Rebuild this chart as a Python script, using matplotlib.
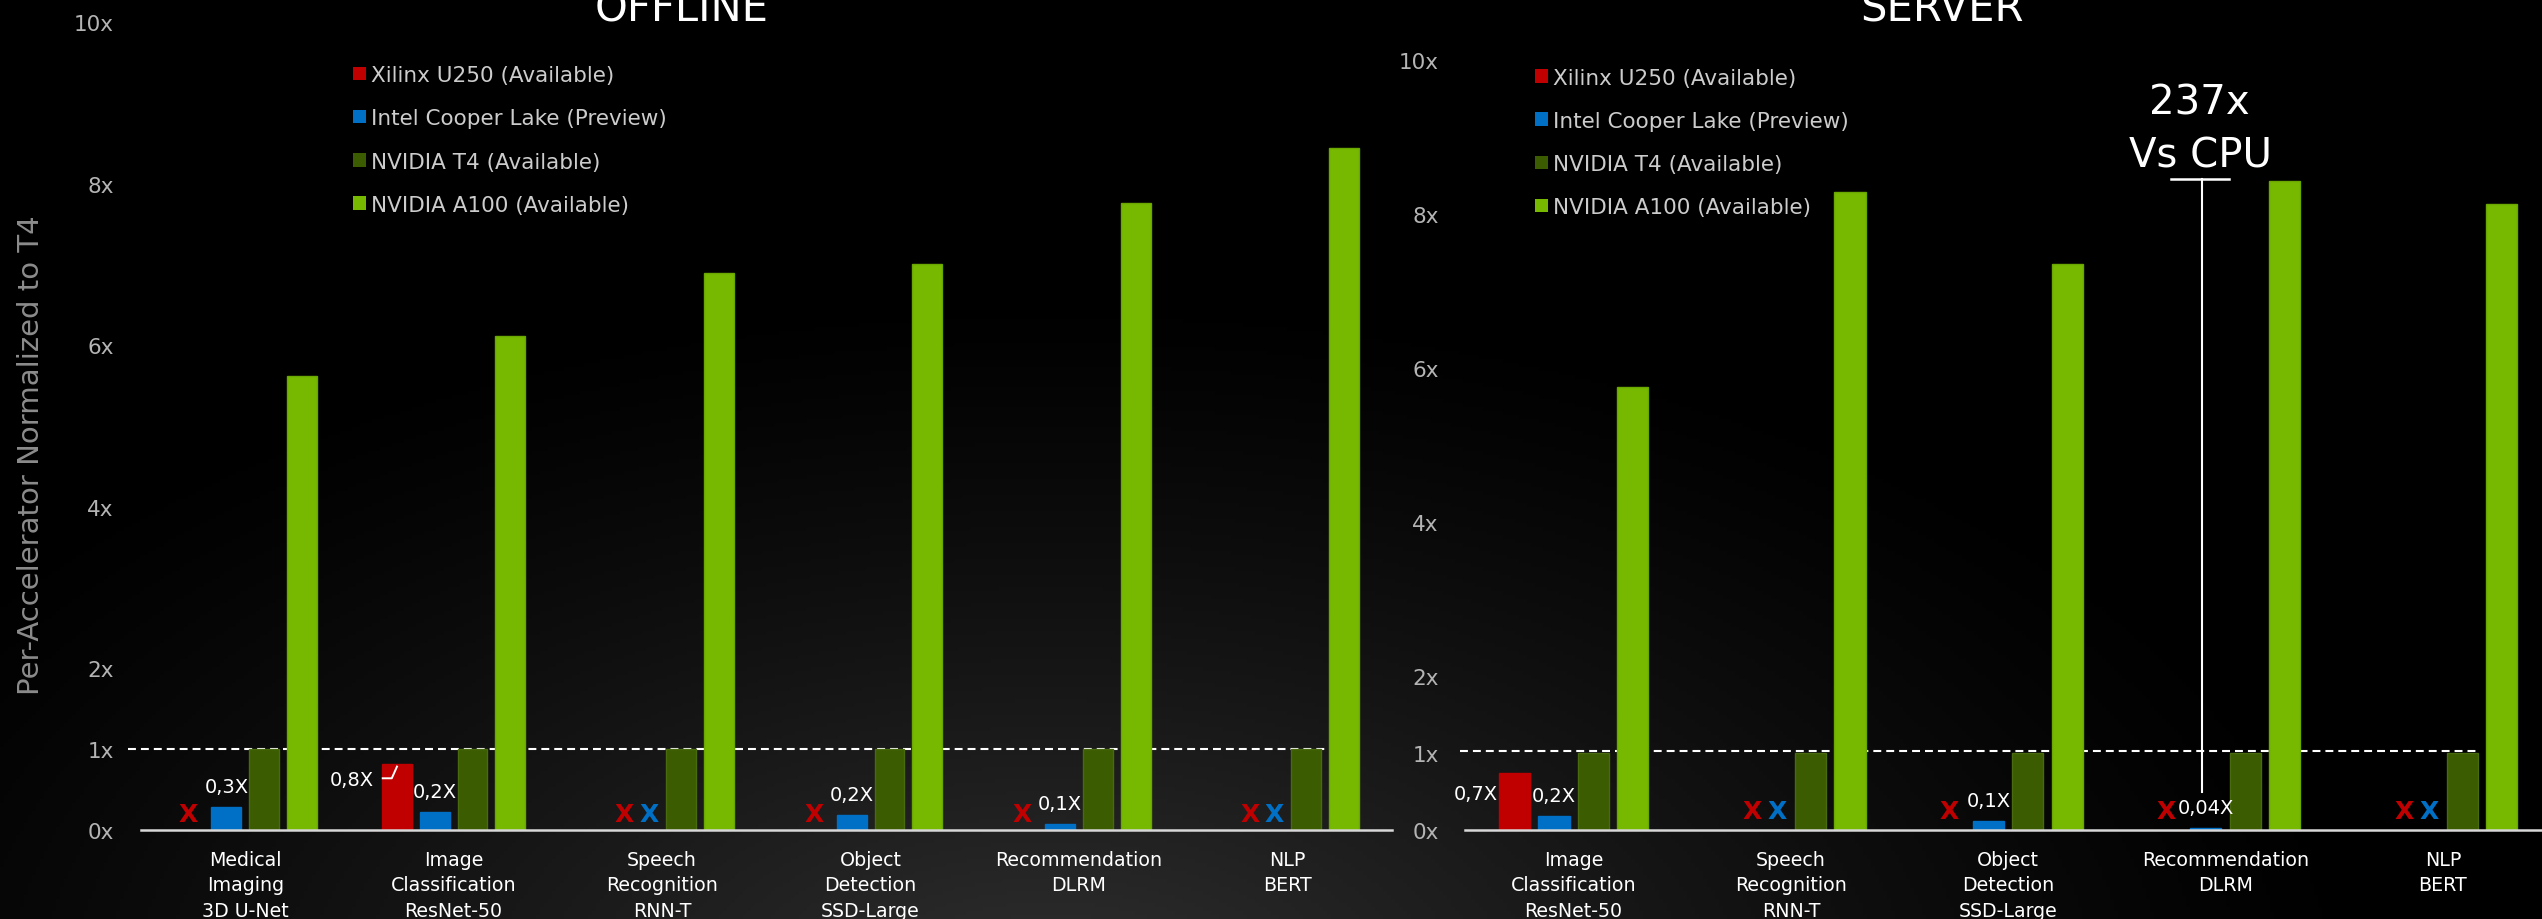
import numpy as np
import matplotlib
matplotlib.use("Agg")
import matplotlib.pyplot as plt
from matplotlib.patches import Patch

nan = np.nan

# ---------------- data ----------------
series_names = ["Xilinx U250 (Available)", "Intel Cooper Lake (Preview)",
                "NVIDIA T4 (Available)", "NVIDIA A100 (Available)"]

off_categories = ["Medical\nImaging\n3D U-Net", "Image\nClassification\nResNet-50",
                  "Speech\nRecognition\nRNN-T", "Object\nDetection\nSSD-Large",
                  "Recommendation\nDLRM", "NLP\nBERT"]
off_xilinx = [nan, 0.82, nan, nan, nan, nan]
off_intel = [0.29, 0.22, nan, 0.18, 0.08, nan]
off_t4 = [1.0, 1.0, 1.0, 1.0, 1.0, 1.0]
off_a100 = [5.62, 6.11, 6.89, 7.00, 7.76, 8.44]
off_xilinx_labels = ["", "0,8X", "", "", "", ""]
off_intel_labels = ["0,3X", "0,2X", "", "0,2X", "0,1X", ""]

srv_categories = ["Image\nClassification\nResNet-50", "Speech\nRecognition\nRNN-T",
                  "Object\nDetection\nSSD-Large", "Recommendation\nDLRM", "NLP\nBERT"]
srv_xilinx = [0.74, nan, nan, nan, nan]
srv_intel = [0.18, nan, 0.12, 0.03, nan]
srv_t4 = [1.0, 1.0, 1.0, 1.0, 1.0]
srv_a100 = [5.75, 8.29, 7.35, 8.43, 8.13]
srv_xilinx_labels = ["0,7X", "", "", "", ""]
srv_intel_labels = ["0,2X", "", "0,1X", "0,04X", ""]

y_ticks = [0, 1, 2, 4, 6, 8, 10]
y_tick_labels = ["0x", "1x", "2x", "4x", "6x", "8x", "10x"]
callout_lines = ["237x", "Vs CPU"]
callout_group = 3

# ---------------- style ----------------
colors = ["#c00000", "#0070c6", "#3b5c00", "#76b900"]
edgecolors = ["#c00000", "#0070c6", "#4a6a10", "#6aa800"]
plt.rcParams["font.family"] = "DejaVu Sans"

W, H = 2542, 920
def fx(px):
    return px / W
def fy(py):
    return 1 - py / H

fig = plt.figure(figsize=(W / 100, H / 100), dpi=100, facecolor="black")

# background gradient
bg = fig.add_axes([0, 0, 1, 1], zorder=-10)
yy, xx = np.mgrid[0:H:4, 0:W:4]
d = np.sqrt(((xx - 1050) / 1350.0) ** 2 + ((yy - 1000) / 720.0) ** 2)
g = 0.19 * np.clip(1 - d, 0, 1) ** 1.3
img = np.dstack([g, g, g])
bg.imshow(img, extent=[0, 1, 0, 1], aspect="auto", origin="upper")
bg.set_xlim(0, 1); bg.set_ylim(0, 1)
bg.axis("off")

offsets = [-0.2715, -0.0905, 0.0905, 0.2715]
bar_w = 0.143

panels = [
    dict(rect=[fx(141), fy(831), 1250.7 / W, 808 / H], xlim=(-0.5, 5.5),
         cats=off_categories, vals=[off_xilinx, off_intel, off_t4, off_a100],
         xl=off_xilinx_labels, il=off_intel_labels, dash=(-0.564, 5.192, 1.0),
         ypad=19.5, legend=(353, 66), title=("OFFLINE", 682), xmark_y=0.2,
         red_lab_off=(-6.3, -15.3)),
    dict(rect=[fx(1465), fy(831), 1077 / W, 770 / H], xlim=(-0.5, 4.456),
         cats=srv_categories, vals=[srv_xilinx, srv_intel, srv_t4, srv_a100],
         xl=srv_xilinx_labels, il=srv_intel_labels, dash=(-0.521, 4.159, 1.03),
         ypad=19.0, legend=(1535, 68.5), title=("SERVER", 1942), xmark_y=0.25,
         red_lab_off=(-1.2, -18.5)),
]

axes = []
for pi, P in enumerate(panels):
    ax = fig.add_axes(P["rect"])
    ax.set_facecolor("none")
    n = len(P["cats"])
    x = np.arange(n)
    for si in range(4):
        ax.bar(x + offsets[si], P["vals"][si], bar_w, color=colors[si],
               edgecolor=edgecolors[si], linewidth=1.0, zorder=3)
    ax.set_xlim(*P["xlim"])
    ax.set_ylim(0, 10)
    for s in ["left", "right", "top"]:
        ax.spines[s].set_visible(False)
    ax.spines["bottom"].set_color("#d8d8d8")
    ax.spines["bottom"].set_linewidth(1.8)
    ax.spines["bottom"].set_zorder(4)
    ax.set_yticks(y_ticks, y_tick_labels)
    ax.tick_params(axis="y", length=0, pad=P["ypad"], labelcolor="#b4b4b4",
                   labelsize=15.5)
    ax.set_xticks(x, P["cats"])
    ax.tick_params(axis="x", length=0, pad=14.5, labelcolor="white", labelsize=13.7)
    for lb in ax.get_xticklabels():
        lb.set_linespacing(1.42)

    # dashed reference line at T4 = 1x
    x0, x1, yref = P["dash"]
    ax.plot([x0, x1], [yref, yref], color="white", lw=1.5,
            ls=(0, (3.8, 2.4)), clip_on=False, zorder=2)

    xil, intel = P["vals"][0], P["vals"][1]
    for i in range(n):
        # value labels
        if P["il"][i]:
            ax.annotate(P["il"][i], xy=(i + offsets[1], intel[i]), xytext=(0, 10.8),
                        textcoords="offset points", ha="center", va="baseline",
                        color="white", fontsize=14, zorder=5)
        if P["xl"][i]:
            ax.annotate(P["xl"][i], xy=(i + offsets[0] - bar_w / 2, xil[i]),
                        xytext=P["red_lab_off"], textcoords="offset points",
                        ha="right", va="baseline", color="white", fontsize=14,
                        zorder=5)
        # missing-result markers
        xm = dict(ha="center", va="center", fontsize=18, fontweight="bold", zorder=5)
        if np.isnan(xil[i]) and np.isnan(intel[i]):
            ax.text(i - 0.18, P["xmark_y"], "X", color=colors[0], **xm)
            ax.text(i - 0.063, P["xmark_y"], "X", color=colors[1], **xm)
        elif np.isnan(xil[i]):
            ax.text(i + offsets[0], P["xmark_y"], "X", color=colors[0], **xm)

    ax.legend(handles=[Patch(facecolor=c, edgecolor="none") for c in colors],
              labels=series_names, loc="upper left",
              bbox_to_anchor=(fx(P["legend"][0]), fy(P["legend"][1])),
              bbox_transform=fig.transFigure, frameon=False, fontsize=15.5,
              handlelength=0.6, handleheight=0.6, handletextpad=0.23,
              labelspacing=1.08, borderpad=0, borderaxespad=0,
              labelcolor="#cccccc")

    fig.text(fx(P["title"][1]), fy(21), P["title"][0], ha="center", va="baseline",
             color="white", fontsize=30)
    axes.append(ax)

axL, axR = axes

# leader tick on offline Image Classification Xilinx bar
ri = 1
rx = ri + offsets[0]
axL.plot(rx + np.array([-15.3, -5.3, 0.3]) / 208.3,
         off_xilinx[ri] - np.array([0.18, 0.18, 0.024]),
         color="white", lw=1.4, zorder=6, solid_capstyle="butt")

axL.set_ylabel("Per-Accelerator Normalized to T4", fontsize=21, color="#8c8c8c",
               va="center")
axL.yaxis.set_label_coords(-0.0881, 0.4646)

# 237x vs CPU callout on server Recommendation
cx = callout_group + offsets[1] - 0.02
top = srv_a100[callout_group] + 0.03
axR.plot([cx, cx], [0.5, top], color="white", lw=1.5, zorder=6, clip_on=False)
axR.plot([cx - 0.14, cx + 0.125], [top, top], color="white", lw=1.8, zorder=6,
         clip_on=False)
axR.text(cx - 0.01, 9.30, callout_lines[0], ha="center", va="baseline", color="white",
         fontsize=29, clip_on=False)
axR.text(cx - 0.005, 8.62, callout_lines[1], ha="center", va="baseline", color="white",
         fontsize=29, clip_on=False)

fig.savefig("out.png", dpi=100, facecolor="black")
